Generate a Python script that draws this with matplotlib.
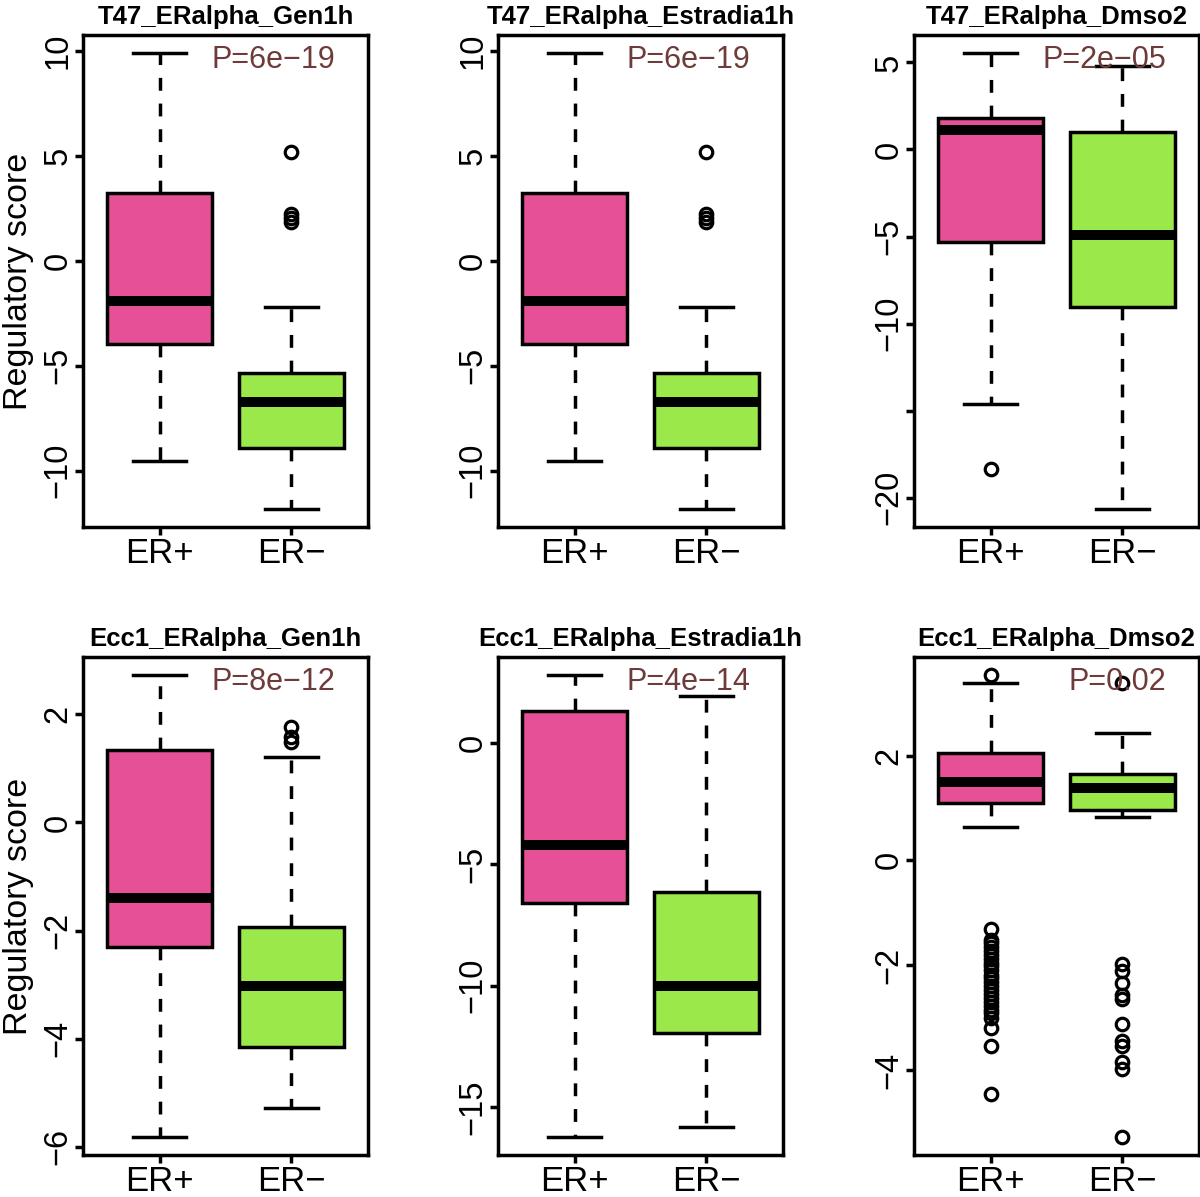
import matplotlib.pyplot as plt
import numpy as np

plt.rcParams['font.family'] = ['Liberation Sans', 'DejaVu Sans']

groups = ['ER+', 'ER\u2212']
titles = ['T47_ERalpha_Gen1h', 'T47_ERalpha_Estradia1h', 'T47_ERalpha_Dmso2',
          'Ecc1_ERalpha_Gen1h', 'Ecc1_ERalpha_Estradia1h', 'Ecc1_ERalpha_Dmso2']
pvals = ['P=6e\u221219', 'P=6e\u221219', 'P=2e\u221205', 'P=8e\u221212', 'P=4e\u221214', 'P=0.02']

# per panel: [ER+, ER-] -> (lower whisker, q1, median, q3, upper whisker)
stats_pos = [(-9.52, -3.96, -1.93, 3.23, 9.90),
             (-9.52, -3.96, -1.93, 3.23, 9.90),
             (-14.64, -5.32, 1.13, 1.81, 5.53),
             (-5.81, -2.30, -1.39, 1.35, 2.72),
             (-16.22, -6.61, -4.21, 1.31, 2.78),
             (0.63, 1.09, 1.49, 2.05, 3.39)]
stats_neg = [(-11.82, -8.90, -6.75, -5.34, -2.19),
             (-11.82, -8.90, -6.75, -5.34, -2.19),
             (-20.64, -9.04, -4.89, 1.02, 4.79),
             (-5.29, -4.15, -3.03, -1.94, 1.21),
             (-15.84, -11.96, -10.01, -6.15, 1.95),
             (0.83, 0.97, 1.38, 1.65, 2.43)]
outliers_pos = [[], [], [-18.36], [], [],
                [3.53, -1.30, -1.52, -1.58, -1.65, -1.72, -1.80, -1.88, -1.95, -2.02,
                 -2.10, -2.18, -2.25, -2.32, -2.40, -2.48, -2.55, -2.62, -2.70, -2.78,
                 -2.85, -2.92, -3.00, -3.20, -3.54, -4.45]]
outliers_neg = [[5.18, 2.25, 2.02, 1.85], [5.18, 2.25, 2.02, 1.85], [], [1.77, 1.59, 1.49], [],
                [3.38, -1.98, -2.12, -2.34, -2.56, -2.64, -3.13, -3.44, -3.54, -3.84, -3.98, -5.27]]
yticks = [[-10, -5, 0, 5, 10], [-10, -5, 0, 5, 10], [-20, -15, -10, -5, 0, 5],
          [-6, -4, -2, 0, 2], [-15, -10, -5, 0], [-4, -2, 0, 2]]
hidden_ticks = [[], [], [-15], [], [], []]

colors = ['#E55096', '#9BE84B']
ptxt_color = '#6E3A3A'

fig = plt.figure(figsize=(12, 11.97), dpi=100)
lefts = [83, 498, 914]
tops = [35, 657]
bottoms = [527, 1155]
W, H = 1200, 1197
lw = 2.5

for i in range(6):
    r, c = divmod(i, 3)
    ax = fig.add_axes([lefts[c] / W, 1 - bottoms[r] / H, 285 / W, (bottoms[r] - tops[r]) / H])
    bstats = []
    for s, fl in [(stats_pos[i], outliers_pos[i]), (stats_neg[i], outliers_neg[i])]:
        bstats.append({'whislo': s[0], 'q1': s[1], 'med': s[2], 'q3': s[3], 'whishi': s[4], 'fliers': fl})
    bp = ax.bxp(bstats, positions=[1, 2], widths=0.8, patch_artist=True,
                boxprops=dict(linewidth=lw, edgecolor='black'),
                medianprops=dict(color='black', linewidth=7.2, solid_capstyle='butt'),
                whiskerprops=dict(linewidth=lw, linestyle=(0, (3.7, 3.7)), color='black'),
                capprops=dict(linewidth=lw, color='black'),
                capwidths=0.4,
                flierprops=dict(marker='o', markersize=9, markerfacecolor='none',
                                markeredgecolor='black', markeredgewidth=2.3, linestyle='none'))
    for patch, col in zip(bp['boxes'], colors):
        patch.set_facecolor(col)
    # R-style axis ranges
    allv = list(stats_pos[i]) + list(stats_neg[i]) + outliers_pos[i] + outliers_neg[i]
    lo, hi = min(allv), max(allv)
    pad = 0.04 * (hi - lo)
    ax.set_ylim(lo - pad, hi + pad)
    ax.set_xlim(0.42, 2.58)
    ax.set_xticks([1, 2])
    ax.set_xticklabels(groups, fontsize=25)
    ax.set_yticks(yticks[i])
    ax.set_yticklabels(['' if t in hidden_ticks[i] else str(t).replace('-', '\u2212') for t in yticks[i]],
                       rotation=90, va='center', fontsize=23.5)
    ax.tick_params(axis='both', length=5.5, width=lw, direction='out')
    ax.tick_params(axis='y', pad=1.5)
    ax.tick_params(axis='x', pad=2)
    for sp in ax.spines.values():
        sp.set_linewidth(lw)
    ax.set_title(titles[i], fontsize=18.5, fontweight='bold', pad=8)
    ax.text(0.886, 0.95, pvals[i], transform=ax.transAxes, ha='right', va='center',
            fontsize=22, color=ptxt_color)
    if c == 0:
        ax.text(-0.226, 0.5, 'Regulatory score', transform=ax.transAxes, rotation=90,
                ha='center', va='center', fontsize=24.5)

fig.savefig('out.png', dpi=100)
